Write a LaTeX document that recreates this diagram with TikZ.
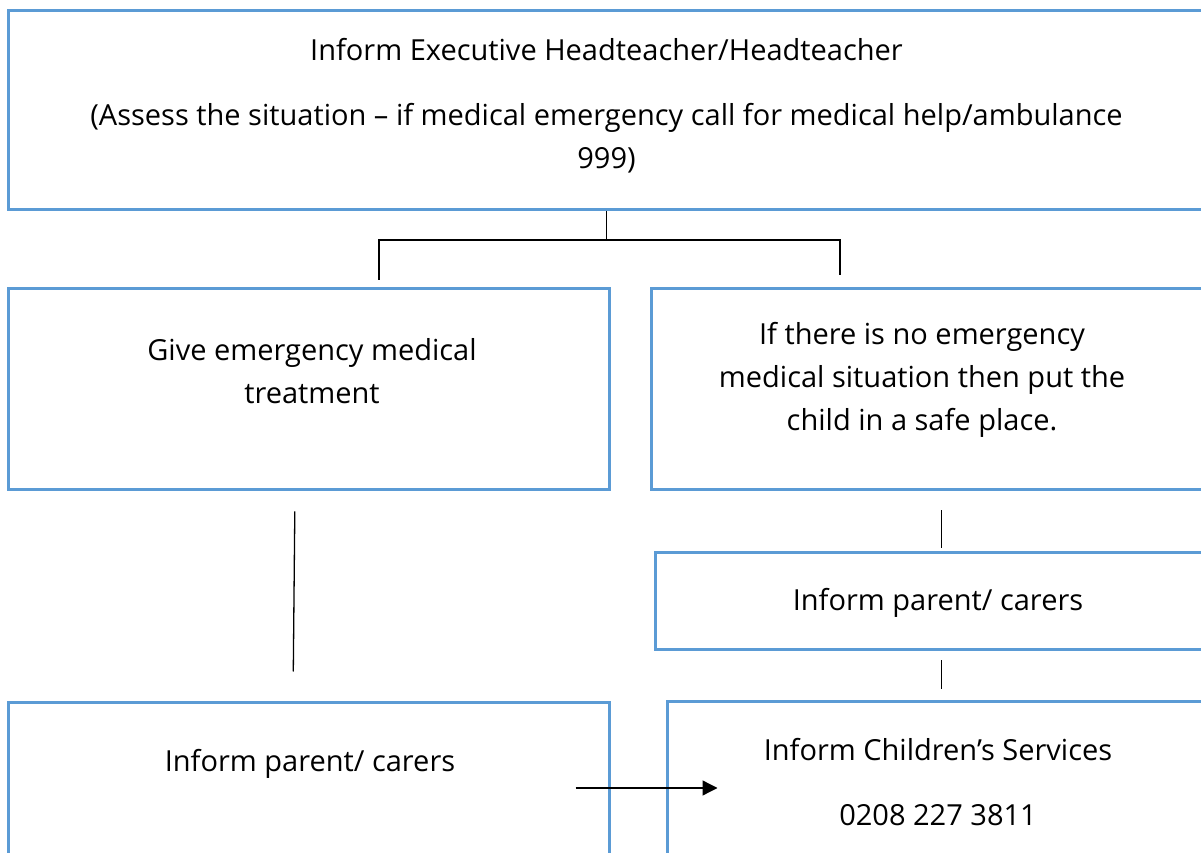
\documentclass[tikz,border=0pt]{standalone}
\usepackage{fontspec}
\setmainfont{Open Sans}
\usetikzlibrary{arrows.meta}
\definecolor{boxblue}{HTML}{5B9BD5}

\begin{document}
\begin{tikzpicture}[x=1pt, y=1pt]
\tikzstyle{block} = [rectangle, draw=boxblue, line width=3pt, inner sep=0pt]
\tikzstyle{txt} = [align=center, inner sep=0pt, font=\fontsize{29}{43}\selectfont]
\tikzstyle{line} = [draw, line width=1.3pt]
\tikzstyle{pointer} = [line, -{Triangle[length=15pt, width=15pt]}]

 \useasboundingbox (0,0) rectangle (1201,853);

 \node [block, minimum width=1197pt, minimum height=199pt] (head) at (606.5,742.5) {};
 \node [block, below of=head, node distance=279pt, xshift=-298pt,
   minimum width=601pt, minimum height=201pt] (treat) {};
 \node [block, right of=treat, node distance=619.5pt,
   minimum width=554pt, minimum height=201pt] (safe) {};
 \node [block, below of=safe, node distance=212pt, xshift=10pt,
   minimum width=566pt, minimum height=97pt] (parentr) {};
 \node [block, below of=treat, node distance=417pt,
   minimum width=601pt, minimum height=207pt] (parentl) {};
 \node [block, below of=parentr, node distance=204.5pt,
   minimum width=542pt, minimum height=208pt] (services) {};

 \node [txt] (headtext) at ([yshift=4.5pt]head.center)
   {Inform Executive Headteacher/Headteacher\\[22pt]
    (Assess the situation -- if medical emergency call for medical help/ambulance\\
    999)};
 \node [txt] (treattext) at ([xshift=3.5pt, yshift=18pt]treat.center)
   {Give emergency medical\\ treatment};
 \node [txt] (safetext) at ([xshift=-6pt, yshift=9.5pt]safe.center)
   {If there is no emergency\\ medical situation then put the\\ child in a safe place.};
 \node [txt] (parentrtext) at ([yshift=-1.5pt]parentr.center) {Inform parent/ carers};
 \node [txt] (parentltext) at ([xshift=1.5pt, yshift=42.5pt]parentl.center) {Inform parent/ carers};
 \node [txt] (servicestext) at ([yshift=24pt]services.center)
   {Inform Children’s Services\\[22pt] 0208 227 3811};

 \coordinate [below of=head, node distance=129.5pt] (fork);
 \path [line] (head.south) -- (fork);
 \path [line, shorten >=7pt] (fork) -| ([xshift=70.5pt]treat.north);
 \path [line, shorten >=12pt] (fork) -| ([xshift=-88pt]safe.north);

 \path [line, shorten <=20pt, shorten >=30pt] ([xshift=-13.5pt]treat.south) -- ([xshift=-15.5pt]parentl.north);
 \path [line, shorten <=19pt, shorten >=3pt] ([xshift=13.5pt]safe.south) -- ([xshift=3.5pt]parentr.north);
 \path [line, shorten <=9pt, shorten >=11pt] ([xshift=3.5pt]parentr.south) -- ([xshift=3.5pt]services.north);

 \path [pointer, shorten <=-35pt, shorten >=-52pt] ([yshift=18.5pt]parentl.east) -- ([yshift=18pt]services.west);
\end{tikzpicture}
\end{document}
